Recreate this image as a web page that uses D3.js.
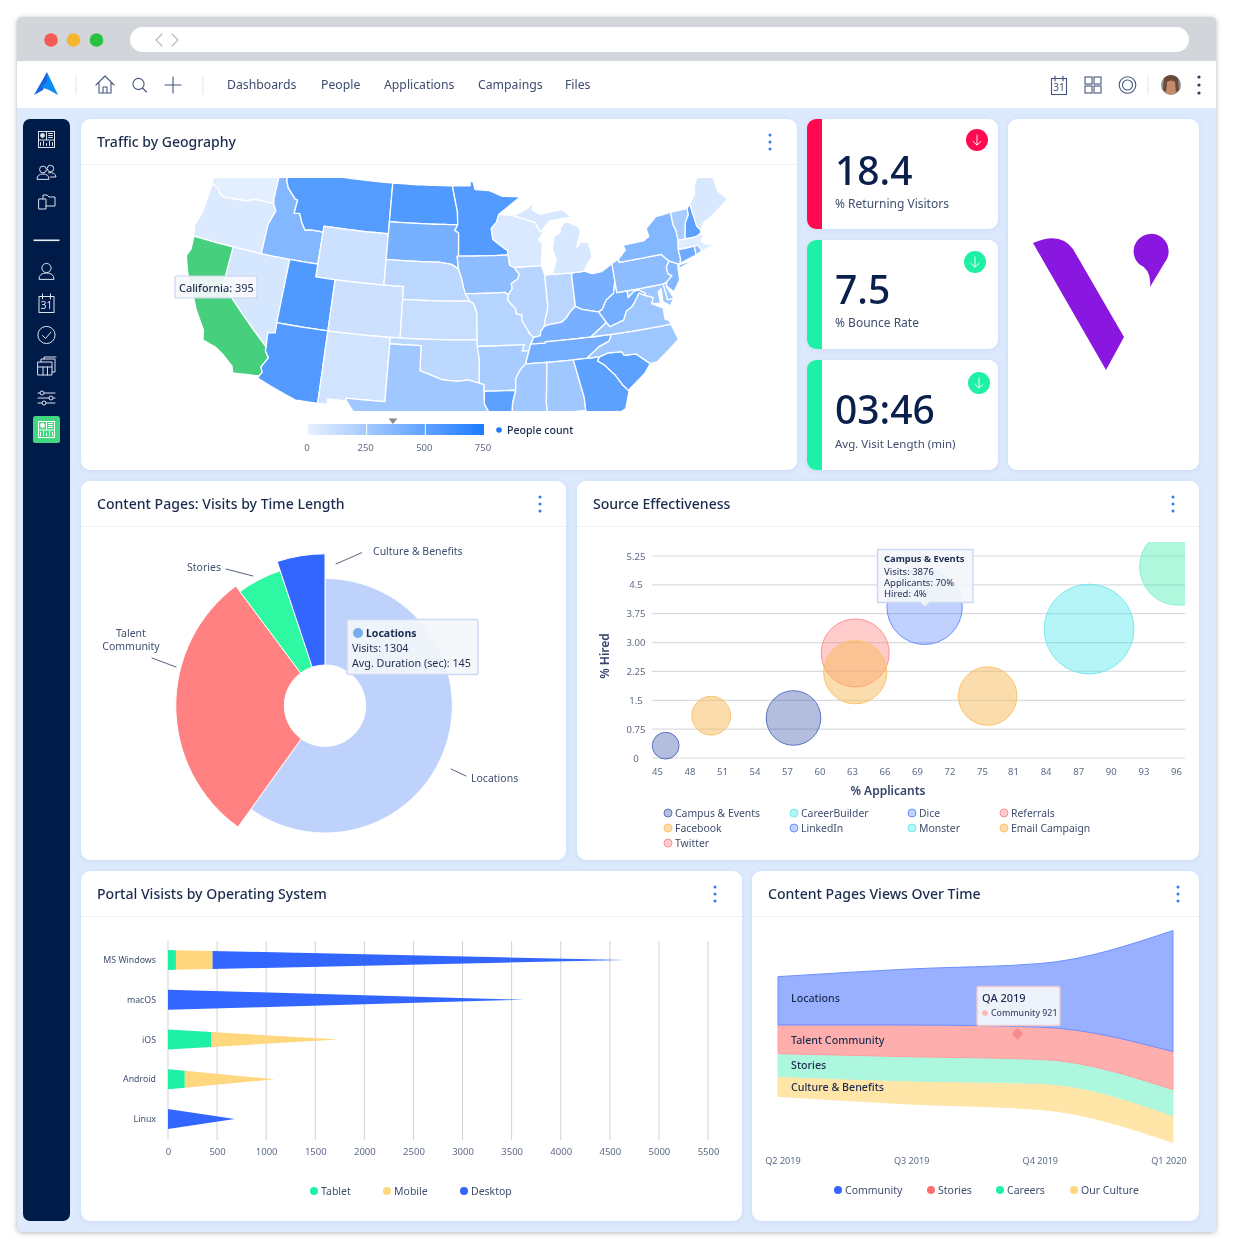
<!DOCTYPE html>
<html><head><meta charset="utf-8">
<script src="https://cdn.jsdelivr.net/npm/d3@7/dist/d3.min.js"></script>
<style>
html,body{margin:0;padding:0;background:#fff;overflow:hidden}
svg{display:block;filter:blur(.35px)}
text{font-family:"Noto Sans","Open Sans",sans-serif;fill:#2b3b5c}
</style></head><body>
<svg id="page" width="1233" height="1250" viewBox="0 0 1233 1250"></svg>
<script>
// ---------- navigation ----------
const navItems=["Dashboards","People","Applications","Campaings","Files"];
// ---------- map (lon/lat outlines and people counts) ----------
const WA=[[-124.7,48.4],[-123.1,48.2],[-122.8,49],[-117,49],[-117,46.4],[-116.9,46],[-119,46],[-120,45.7],[-121.2,45.65],[-122.3,45.55],[-122.8,45.7],[-123.4,46.2],[-124,46.25],[-124.1,47],[-124.7,48.4]];
const OR=[[-124,46.25],[-123.4,46.2],[-122.8,45.7],[-122.3,45.55],[-121.2,45.65],[-120,45.7],[-119,46],[-116.9,46],[-116.5,45.5],[-117,44.3],[-117,42],[-124.2,42],[-124.5,42.8],[-124.1,44],[-124,46.25]];
const CA=[[-124.2,42],[-120,42],[-120,39],[-114.6,35],[-114.6,34.7],[-114.2,34.2],[-114.7,33.4],[-114.5,33],[-114.7,32.7],[-117.1,32.5],[-117.3,33],[-118.4,33.75],[-119.2,34.15],[-120.5,34.45],[-120.7,35.2],[-121.9,36.6],[-122.5,37.5],[-123,38],[-123.8,39.3],[-124.35,40.4],[-124.1,41],[-124.2,42]];
const NV=[[-120,42],[-114,42],[-114,36.2],[-114.7,36.1],[-114.6,35],[-120,39],[-120,42]];
const ID=[[-117,49],[-116.05,49],[-116.05,48],[-115.7,47.45],[-114.7,46.7],[-114.4,46.65],[-114.5,45.6],[-113.9,45.65],[-113.45,44.95],[-113,44.45],[-112.3,44.55],[-111.5,44.55],[-111.05,44.5],[-111.05,42],[-117,42],[-117,44.3],[-116.5,45.5],[-116.9,46],[-117,46.4],[-117,49]];
const MT=[[-116.05,49],[-104.05,49],[-104.05,45],[-111.05,45],[-111.05,44.5],[-111.5,44.55],[-112.3,44.55],[-113,44.45],[-113.45,44.95],[-113.9,45.65],[-114.5,45.6],[-114.4,46.65],[-114.7,46.7],[-115.7,47.45],[-116.05,48],[-116.05,49]];
const WY=[[-111.05,45],[-104.05,45],[-104.05,41],[-111.05,41],[-111.05,45]];
const UT=[[-114,42],[-111.05,42],[-111.05,41],[-109.05,41],[-109.05,37],[-114.05,37],[-114,42]];
const AZ=[[-114.05,37],[-109.05,37],[-109.05,31.33],[-111.07,31.33],[-114.8,32.5],[-114.7,32.7],[-114.5,33],[-114.7,33.4],[-114.2,34.2],[-114.6,34.7],[-114.6,35],[-114.7,36.1],[-114,36.2],[-114.05,37]];
const CO=[[-109.05,41],[-102.05,41],[-102.05,37],[-109.05,37],[-109.05,41]];
const NM=[[-109.05,37],[-103,37],[-103.05,32],[-106.6,32],[-106.5,31.78],[-108.2,31.78],[-108.2,31.33],[-109.05,31.33],[-109.05,37]];
const ND=[[-104.05,49],[-97.2,49],[-96.9,48],[-96.6,47],[-96.56,45.95],[-104.05,45.95],[-104.05,49]];
const SD=[[-104.05,45.95],[-96.56,45.95],[-96.85,45.5],[-96.45,45.3],[-96.45,43.5],[-96.6,43.5],[-96.45,42.5],[-97.2,42.85],[-98.5,43],[-104.05,43],[-104.05,45.95]];
const NE=[[-104.05,43],[-98.5,43],[-97.2,42.85],[-96.45,42.5],[-96.1,41.7],[-95.9,41],[-95.3,40],[-102.05,40],[-102.05,41],[-104.05,41],[-104.05,43]];
const KS=[[-102.05,40],[-95.3,40],[-94.9,39.8],[-94.6,39.1],[-94.62,37],[-102.05,37],[-102.05,40]];
const OK=[[-103,37],[-94.62,37],[-94.43,35.4],[-94.48,33.64],[-95.5,33.9],[-96.5,33.8],[-97.2,33.85],[-97.9,33.9],[-98.5,34.1],[-99.5,34.4],[-100,34.56],[-100,36.5],[-103,36.5],[-103,37]];
const TX=[[-103,36.5],[-100,36.5],[-100,34.56],[-99.5,34.4],[-98.5,34.1],[-97.9,33.9],[-97.2,33.85],[-96.5,33.8],[-95.5,33.9],[-94.48,33.64],[-94.04,33.55],[-94.04,33],[-94.04,32],[-93.55,31.2],[-93.8,30],[-93.85,29.7],[-95,29.2],[-97,28],[-97.4,26],[-99,26.4],[-99.5,27.5],[-101,29.5],[-102.5,29.75],[-103.2,29],[-104.5,29.6],[-106.5,31.78],[-106.6,32],[-103.05,32],[-103,36.5]];
const MN=[[-97.2,49],[-95.15,49],[-95.15,49.4],[-94.8,49.3],[-94.6,48.7],[-93,48.6],[-91.5,48.1],[-89.5,48],[-92,46.7],[-92.3,46.1],[-92.9,45.6],[-92.75,44.75],[-91.25,43.85],[-91.22,43.5],[-96.45,43.5],[-96.45,45.3],[-96.85,45.5],[-96.56,45.95],[-96.6,47],[-96.9,48],[-97.2,49]];
const IA=[[-96.6,43.5],[-91.22,43.5],[-91.1,42.7],[-90.64,42.5],[-90.15,41.95],[-90.35,41.6],[-91.05,41.25],[-90.95,40.9],[-91.4,40.4],[-91.7,40.6],[-95.75,40.58],[-95.9,41],[-96.1,41.7],[-96.45,42.5],[-96.6,43.5]];
const MO=[[-95.75,40.58],[-91.7,40.6],[-91.4,40.4],[-91.5,40],[-90.75,39.3],[-90.7,38.9],[-90.15,38.8],[-90.2,38.4],[-89.5,37.3],[-89.15,37],[-89.5,36.5],[-89.7,36],[-90.35,36],[-90.1,36.5],[-94.62,36.5],[-94.62,37],[-94.6,39.1],[-94.9,39.8],[-95.3,40],[-95.75,40.58]];
const AR=[[-94.62,36.5],[-90.1,36.5],[-90.35,36],[-89.7,36],[-90.1,35],[-90.6,34.6],[-91.1,33.9],[-91.15,33],[-94.04,33],[-94.04,33.55],[-94.48,33.64],[-94.43,35.4],[-94.62,36.5]];
const LA=[[-94.04,33],[-91.15,33],[-91.5,32],[-91.6,31],[-89.75,31],[-89.6,30.2],[-89,29.2],[-91,29.2],[-93.85,29.7],[-93.8,30],[-93.55,31.2],[-94.04,32],[-94.04,33]];
const WI=[[-92,46.7],[-90.4,46.55],[-88.1,45.9],[-87.6,45.1],[-87,45.3],[-87.9,44.5],[-87.5,44.2],[-87.8,42.5],[-90.64,42.5],[-91.1,42.7],[-91.22,43.5],[-91.25,43.85],[-92.75,44.75],[-92.9,45.6],[-92.3,46.1],[-92,46.7]];
const IL=[[-90.64,42.5],[-87.8,42.5],[-87.55,41.75],[-87.53,39.35],[-87.6,39],[-87.95,38.2],[-88.05,37.8],[-88.45,37.4],[-88.5,37.1],[-89.15,37],[-89.5,37.3],[-90.2,38.4],[-90.15,38.8],[-90.7,38.9],[-90.75,39.3],[-91.5,40],[-91.4,40.4],[-90.95,40.9],[-91.05,41.25],[-90.35,41.6],[-90.15,41.95],[-90.64,42.5]];
const IN=[[-87.55,41.75],[-87.2,41.75],[-86.8,41.76],[-84.8,41.7],[-84.8,39.1],[-85.4,38.7],[-85.8,38.3],[-86.3,38],[-86.8,37.95],[-87.6,37.9],[-88.05,37.8],[-87.95,38.2],[-87.6,39],[-87.53,39.35],[-87.55,41.75]];
const OH=[[-84.8,41.7],[-83.45,41.72],[-82.7,41.45],[-81.7,41.5],[-80.52,42],[-80.52,40.64],[-80.85,39.7],[-81.7,39.25],[-82.2,38.6],[-82.6,38.45],[-83.3,38.6],[-84.2,38.8],[-84.8,39.1],[-84.8,41.7]];
const MIL=[[-86.8,41.76],[-84.8,41.7],[-83.45,41.72],[-83.1,42.2],[-82.5,42.7],[-82.45,43],[-82.6,43.9],[-83.4,44],[-83.9,43.65],[-83.3,44.8],[-83.4,45.2],[-84.75,45.75],[-85.4,45.3],[-85.5,44.9],[-86.2,44.7],[-86.5,43.7],[-86.2,42.8],[-86.8,41.76]];
const MIU=[[-90.4,46.55],[-88.9,47],[-88,47.45],[-88.3,46.9],[-87.5,46.5],[-85,46.7],[-84,46],[-85,46],[-86.5,45.9],[-87.6,45.1],[-88.1,45.9],[-90.4,46.55]];
const KY=[[-89.5,36.5],[-89.15,37],[-88.5,37.1],[-88.45,37.4],[-88.05,37.8],[-87.6,37.9],[-86.8,37.95],[-86.3,38],[-85.8,38.3],[-85.4,38.7],[-84.8,39.1],[-84.2,38.8],[-83.3,38.6],[-82.6,38.45],[-82,37.55],[-83.7,36.6],[-88.07,36.6],[-88.07,36.5],[-89.5,36.5]];
const TN=[[-90.1,35],[-89.7,36],[-89.5,36.5],[-88.07,36.5],[-88.07,36.6],[-83.7,36.6],[-81.68,36.59],[-82,36.1],[-83.1,35.75],[-84.3,35],[-88.2,35],[-90.1,35]];
const MS=[[-91.15,33],[-91.1,33.9],[-90.6,34.6],[-90.1,35],[-88.2,35],[-88.1,34.9],[-88.45,31.9],[-88.4,30.3],[-89.6,30.2],[-89.75,31],[-91.6,31],[-91.5,32],[-91.15,33]];
const AL=[[-88.2,35],[-85.6,35],[-85.1,32.5],[-85,32],[-85,31],[-87.6,31],[-87.5,30.3],[-88.4,30.3],[-88.45,31.9],[-88.1,34.9],[-88.2,35]];
const GA=[[-85.6,35],[-83.1,35],[-83.35,34.7],[-82.75,34.3],[-81.9,33.4],[-81.4,32.6],[-80.9,32.05],[-81.45,30.7],[-82.05,30.5],[-82.2,30.6],[-84.85,30.7],[-85,31],[-85,32],[-85.1,32.5],[-85.6,35]];
const SC=[[-83.1,35],[-82.3,35.2],[-81,35.15],[-80.8,34.82],[-79.7,34.8],[-78.55,33.86],[-79.2,33.2],[-80.8,32.2],[-80.9,32.05],[-81.4,32.6],[-81.9,33.4],[-82.75,34.3],[-83.35,34.7],[-83.1,35]];
const NC=[[-84.3,35],[-83.1,35.75],[-82,36.1],[-81.68,36.59],[-75.9,36.55],[-75.5,35.3],[-76.5,34.7],[-77.9,33.9],[-78.55,33.86],[-79.7,34.8],[-80.8,34.82],[-81,35.15],[-82.3,35.2],[-83.1,35],[-84.3,35]];
const VA=[[-83.7,36.6],[-82,37.55],[-81.7,37.2],[-81.3,37.3],[-80.3,37.55],[-79.9,38.2],[-79.3,38.45],[-78.9,38.8],[-78.35,39.4],[-77.8,39.13],[-77.05,38.85],[-77.3,38.4],[-76.3,37.9],[-76.35,37],[-76,36.9],[-75.9,36.55],[-81.68,36.59],[-83.7,36.6]];
const WV=[[-82.6,38.45],[-82.2,38.6],[-81.7,39.25],[-80.85,39.7],[-80.52,40.64],[-80.52,39.72],[-79.48,39.72],[-79.48,39.2],[-78.8,39.6],[-78.35,39.65],[-77.73,39.32],[-77.8,39.13],[-78.35,39.4],[-78.9,38.8],[-79.3,38.45],[-79.9,38.2],[-80.3,37.55],[-81.3,37.3],[-81.7,37.2],[-82,37.55],[-82.6,38.45]];
const MD=[[-79.48,39.72],[-75.79,39.72],[-75.7,38.46],[-75.05,38.45],[-75.6,37.95],[-76.2,38.4],[-76.1,39.4],[-76.45,39.2],[-76.45,38.3],[-77.3,38.4],[-77.05,38.85],[-77.8,39.13],[-77.73,39.32],[-78.35,39.65],[-78.8,39.6],[-79.48,39.2],[-79.48,39.72]];
const DE=[[-75.79,39.72],[-75.4,39.8],[-75.55,39.5],[-75.05,38.45],[-75.7,38.46],[-75.79,39.72]];
const PA=[[-80.52,42],[-79.76,42.27],[-79.76,42],[-75.35,42],[-74.7,41.36],[-75.1,40.95],[-75.1,40.4],[-74.75,40.2],[-75.4,39.8],[-75.79,39.72],[-80.52,39.72],[-80.52,42]];
const NJ=[[-74.7,41.36],[-73.9,41],[-74,40.5],[-74.1,39.75],[-74.9,38.95],[-75.5,39.5],[-75.4,39.8],[-74.75,40.2],[-75.1,40.4],[-75.1,40.95],[-74.7,41.36]];
const NY=[[-79.76,42.27],[-78.9,42.85],[-79.05,43.27],[-76.8,43.3],[-76.2,43.55],[-76.3,44.2],[-75,44.95],[-73.35,45.01],[-73.4,44],[-73.25,43.6],[-73.28,42.75],[-73.5,42.05],[-73.5,41.3],[-73.65,41],[-73.9,41],[-74.7,41.36],[-75.35,42],[-79.76,42],[-79.76,42.27]];
const LI=[[-74,40.6],[-72,41.05],[-73.7,40.9],[-74,40.6]];
const VT=[[-73.35,45.01],[-71.5,45.01],[-71.55,44.5],[-72.05,44],[-72.45,43],[-72.46,42.73],[-73.28,42.75],[-73.25,43.6],[-73.4,44],[-73.35,45.01]];
const NH=[[-71.5,45.01],[-71.1,45.3],[-71,43.5],[-70.7,43.08],[-70.8,42.87],[-71.3,42.7],[-72.46,42.73],[-72.45,43],[-72.05,44],[-71.55,44.5],[-71.5,45.01]];
const ME=[[-71.1,45.3],[-70.3,45.9],[-70,46.7],[-69.2,47.45],[-68.3,47.35],[-67.8,47.07],[-67.8,45.7],[-67,44.85],[-69,44],[-70.2,43.6],[-70.7,43.08],[-71,43.5],[-71.1,45.3]];
const MA=[[-73.5,42.05],[-73.28,42.75],[-72.46,42.73],[-71.3,42.7],[-70.8,42.87],[-70.6,42.65],[-71,42.3],[-70.6,41.95],[-70,41.8],[-70.05,42.05],[-69.95,41.7],[-71.2,41.5],[-71.38,42.02],[-73.5,42.05]];
const CT=[[-73.5,42.05],[-71.8,42.02],[-71.85,41.32],[-73.65,41],[-73.5,41.3],[-73.5,42.05]];
const RI=[[-71.8,42.02],[-71.38,42.02],[-71.2,41.5],[-71.85,41.32],[-71.8,42.02]];
const stateShapes=[WA,OR,NV,ID,MT,WY,UT,AZ,CO,NM,ND,SD,NE,KS,OK,TX,MN,IA,MO,AR,LA,WI,IL,IN,OH,MIL,MIU,KY,TN,MS,AL,GA,SC,NC,VA,WV,MD,DE,PA,NJ,NY,LI,VT,NH,ME,MA,CT,RI,CA];
const stateValues=[20,45,70,370,540,103,560,550,100,88,560,415,158,118,160,265,545,330,187,235,510,50,176,170,410,60,60,410,425,265,265,510,510,270,270,425,270,270,330,370,370,370,235,510,60,30,450,330,395];
const legendTicks=[0,250,500,750];
const hoverValue=362;
// ---------- KPIs ----------
const kpiValues=["18.4","7.5","03:46"];
const kpiLabels=["% Returning Visitors","% Bounce Rate","Avg. Visit Length (min)"];
// ---------- pie ----------
const pieNames=["Locations","Talent Community","Stories","Culture & Benefits"];
const pieVisits=[1304,651,111,111];
const pieDurations=[145,170,162,173];
// ---------- bubbles ----------
const bubbleX=[45.8,50,57.6,63.3,63.3,69.7,76.1,88,96.2];
const bubbleY=[0.32,1.1,1.04,2.73,2.23,3.93,1.61,3.35,4.97];
const bubbleVisits=[490,1026,2032,3152,2723,3876,2325,5498,4042];
const bubbleTones=["navy","orange","navy","red","orange","blue","orange","cyan","green"];
const bubbleXTicks=[45,48,51,54,57,60,63,66,69,72,75,81,84,87,90,93,96];
const bubbleYTicks=[0,0.75,1.5,2.25,3,3.75,4.5,5.25];
const bubbleYLabels=["0","0.75","1.5","2.25","3.00","3.75","4.5","5.25"];
const bubbleLegend=["Campus & Events","CareerBuilder","Dice","Referrals","Facebook","LinkedIn","Monster","Email Campaign","Twitter"];
const bubbleLegendTones=["navy","cyan","blue","red","orange","blue","cyan","orange","red"];
// ---------- tapered bars ----------
const osNames=["MS Windows","macOS","iOS","Android","Linux"];
const tabletViews=[81,0,441,171,0];
const mobileViews=[373,0,1300,917,0];
const desktopViews=[4200,3620,0,0,680];
const barTicks=[0,500,1000,1500,2000,2500,3000,3500,4000,4500,5000,5500];
// ---------- stream ----------
const quarters=["Q2 2019","Q3 2019","Q4 2019","Q1 2020"];
const communityViews=[698,810,921,1750];
const storiesViews=[415,458,467,550];
const careersViews=[328,351,347,376];
const cultureViews=[289,333,376,386];
const streamBandNames=["Locations","Talent Community","Stories","Culture & Benefits"];
const streamLegend=["Community","Stories","Careers","Our Culture"];

// ---------- palette ----------
const INK="#1b2b4d",SOFT="#3f4e6e",MUTED="#5d6a85",BLUE="#3366ff",RED="#ff8181",GREEN="#1ef0a5",AMBER="#ffd77f";
const toneFill={navy:"rgba(66,90,172,.40)",orange:"rgba(248,188,92,.50)",blue:"rgba(51,102,255,.30)",red:"rgba(255,125,125,.40)",cyan:"rgba(60,228,234,.38)",green:"rgba(50,235,165,.38)"};
const toneLine={navy:"#5a74c4",orange:"#f9c46c",blue:"#6e90ff",red:"#ff9191",cyan:"#78eaef",green:"#84f2cc"};

const svg=d3.select("#page");
const defs=svg.append("defs");
const sh=defs.append("filter").attr("id","cardShadow").attr("x","-10%").attr("y","-10%").attr("width","120%").attr("height","120%");
sh.append("feDropShadow").attr("dx",0).attr("dy",1).attr("stdDeviation",2.5).attr("flood-color","#9fbcf0").attr("flood-opacity",.35);
const fs=defs.append("filter").attr("id","frameShadow").attr("x","-5%").attr("y","-5%").attr("width","110%").attr("height","110%");
fs.append("feDropShadow").attr("dx",0).attr("dy",1).attr("stdDeviation",2.5).attr("flood-color","#555").attr("flood-opacity",.45);

function label(g,str,x,y,o={}){
  return g.append("text").attr("x",x).attr("y",y-0.8).text(str)
    .attr("font-size",o.size||11).attr("font-weight",o.weight||400)
    .attr("text-anchor",o.anchor||"start").attr("dominant-baseline","central")
    .style("fill",o.color||SOFT);
}
function shape(g,d,o={}){
  return g.append("path").attr("d",d).attr("fill",o.fill||"none")
    .attr("stroke",o.stroke||"none").attr("stroke-width",o.w||1).attr("stroke-linecap","round").attr("stroke-linejoin","round");
}

// ---------- window frame ----------
svg.append("rect").attr("x",17).attr("y",17).attr("width",1199).attr("height",1215).attr("rx",5).attr("fill","#dde9fc").attr("filter","url(#frameShadow)");
shape(svg,"M17 61V22a5 5 0 0 1 5-5H1211a5 5 0 0 1 5 5V61Z",{fill:"#d2d5da"});
svg.append("rect").attr("x",17).attr("y",61).attr("width",1199).attr("height",47).attr("fill","#fff");
[["#f65a52",51],["#f5b52e",73.5],["#27c23f",96.5]].forEach(([c,x])=>svg.append("circle").attr("cx",x).attr("cy",40).attr("r",6.8).attr("fill",c));
svg.append("rect").attr("x",130).attr("y",27).attr("width",1059).attr("height",25).attr("rx",12.5).attr("fill","#fff");
shape(svg,"M162 34l-6 6 6 6M172 34l6 6-6 6",{stroke:"#b4b8bf",w:1.2});
// nav logo
shape(svg,"M47 72L34 95 43 90 47 82Z",{fill:"#1565e0"});
shape(svg,"M47 72L58 95 49 90 41 87 47 82Z",{fill:"#0a8cf0"});
shape(svg,"M76 76V94M203 76V94M1148 76V94",{stroke:"#e2e5ea",w:1});
const NAV="#44557a";
shape(svg,"M96 85L105 76 114 85M99 83V93H111V83M103 93V87H107V93",{stroke:NAV,w:1.1});
svg.append("circle").attr("cx",138.5).attr("cy",84).attr("r",5.6).attr("fill","none").attr("stroke",NAV).attr("stroke-width",1.1);
shape(svg,"M142.5 88L146.5 92",{stroke:NAV,w:1.1});
shape(svg,"M173 77V93M165 85H181",{stroke:NAV,w:1.1});
const navX=[227,321,384,478,565];
navItems.forEach((t,i)=>label(svg,t,navX[i],85,{size:12.25,color:"#3c4c6e"}));
// right icons
function calendar(g,x,y,col,w){
  g.append("rect").attr("x",x-7.5).attr("y",y-7.5).attr("width",15).attr("height",16).attr("fill","none").attr("stroke",col).attr("stroke-width",w);
  shape(g,`M${x-4} ${y-10}V${y-5}M${x+4} ${y-10}V${y-5}`,{stroke:col,w});
  label(g,"31",x,y+2,{size:10,color:col,anchor:"middle"});
}
calendar(svg,1059,86,NAV,1.1);
[[1085,77],[1094,77],[1085,86],[1094,86]].forEach(([x,y])=>svg.append("rect").attr("x",x).attr("y",y).attr("width",7).attr("height",7).attr("fill","none").attr("stroke",NAV).attr("stroke-width",1.1));
[8.3,5].forEach(r=>svg.append("circle").attr("cx",1127.5).attr("cy",85).attr("r",r).attr("fill","none").attr("stroke",NAV).attr("stroke-width",1.1));
svg.append("circle").attr("cx",1171).attr("cy",85).attr("r",10).attr("fill","#8d8f94");
shape(svg,"M1164 78Q1171 72 1178 78L1179 90Q1171 97 1163 90Z",{fill:"#6b4a3a"});
shape(svg,"M1167 82Q1171 79 1175 82L1176 93Q1171 96 1166 93Z",{fill:"#c58a68"});
[77,85,93].forEach(y=>svg.append("circle").attr("cx",1199).attr("cy",y).attr("r",1.6).attr("fill","#2b3b5c"));

// ---------- sidebar ----------
svg.append("rect").attr("x",23).attr("y",119).attr("width",47).attr("height",1102).attr("rx",7).attr("fill","#001b48");
const SIDE="#dbe2ee";
function dashIcon(g,x,y,col,bg){
  g.append("rect").attr("x",x-8.5).attr("y",y-8.5).attr("width",17).attr("height",17).attr("fill",col);
  g.append("rect").attr("x",x-7.5).attr("y",y-7.5).attr("width",7).attr("height",7.5).attr("fill",bg);
  g.append("rect").attr("x",x+.5).attr("y",y-7.5).attr("width",7).attr("height",7.5).attr("fill",bg);
  g.append("rect").attr("x",x-7.5).attr("y",y+1).attr("width",15).attr("height",6.5).attr("fill",bg);
  g.append("circle").attr("cx",x-4).attr("cy",y-4).attr("r",2.4).attr("fill",col);
  shape(g,`M${x+2} ${y-6}H${x+6}M${x+2} ${y-4}H${x+6}M${x+2} ${y-2}H${x+6}M${x-6} ${y+6}V${y+3}M${x-3} ${y+6}V${y+2}M${x} ${y+6}V${y+4}M${x+3} ${y+6}V${y+2}M${x+6} ${y+6}V${y+3}`,{stroke:col,w:1});
}
dashIcon(svg,46.5,139.5,SIDE,"#001b48");
svg.append("circle").attr("cx",43).attr("cy",169.5).attr("r",3.4).attr("fill","none").attr("stroke",SIDE);
svg.append("circle").attr("cx",50.5).attr("cy",168.5).attr("r",3.2).attr("fill","none").attr("stroke",SIDE);
shape(svg,"M37 179Q37 174 43 174Q49 174 49 179ZM48.5 172.7Q55.5 172 56 177H50.5",{stroke:SIDE,w:1});
shape(svg,"M39 199H46V209H39ZM43 199V195H47L49 197H55V206H46",{stroke:SIDE,w:1});
svg.append("rect").attr("x",33.5).attr("y",239.5).attr("width",26).attr("height",1.6).attr("fill","#e9edf3");
svg.append("circle").attr("cx",46.5).attr("cy",268).attr("r",4.6).attr("fill","none").attr("stroke",SIDE);
shape(svg,"M39 279Q39 273 46.5 273Q54 273 54 279Z",{stroke:SIDE,w:1});
calendar(svg,46.5,304,SIDE,1);
svg.append("circle").attr("cx",46.5).attr("cy",335).attr("r",8.6).attr("fill","none").attr("stroke",SIDE);
shape(svg,"M42.5 335.5L45.5 338.5 51 332",{stroke:SIDE,w:1});
shape(svg,"M38 362H52V375H38ZM38 367H52M43 367V375M47.5 367V375M41 362V359H55V372H52M44 359V357H56",{stroke:SIDE,w:1});
shape(svg,"M38 393H55M38 398H55M38 403H55",{stroke:SIDE,w:1});
[[42,393],[51,398],[44,403]].forEach(([x,y])=>svg.append("circle").attr("cx",x).attr("cy",y).attr("r",2).attr("fill","#001b48").attr("stroke",SIDE));
svg.append("rect").attr("x",33).attr("y",416).attr("width",27).attr("height",27).attr("rx",2.5).attr("fill","#41d67f");
dashIcon(svg,46.5,429.5,"#fff","#41d67f");

// ---------- cards ----------
function card(x,y,w,h,title,dotsX){
  svg.append("rect").attr("x",x).attr("y",y).attr("width",w).attr("height",h).attr("rx",9).attr("fill","#fff").attr("filter","url(#cardShadow)");
  if(title){
    label(svg,title,x+16,y+23,{size:14.05,weight:500,color:INK});
    svg.append("line").attr("x1",x).attr("x2",x+w).attr("y1",y+45.5).attr("y2",y+45.5).attr("stroke","#eff1f5");
    [-7,0,7].forEach(d=>svg.append("circle").attr("cx",dotsX).attr("cy",y+23+d).attr("r",1.5).attr("fill","#2f7cf0"));
  }
}
card(81,119,716,351,"Traffic by Geography",770);
card(81,481,485,379,"Content Pages: Visits by Time Length",540);
card(577,481,622,379,"Source Effectiveness",1173);
card(81,871,661,350,"Portal Visists by Operating System",715);
card(752,871,447,350,"Content Pages Views Over Time",1178);

// ---------- map ----------
const albers=d3.geoAlbers().rotate([96,0]).center([0,38]).parallels([29.5,45.5]).scale(1000).translate([0,0]);
const mapX=d3.scaleLinear().domain([albers([-124.2,42])[0],albers([-75.35,42])[0]]).range([194,661]);
const mapY=d3.scaleLinear().domain([albers([-104.05,49])[1],albers([-102.05,37])[1]]).range([183,338]);
function densify(ring){
  const out=[];
  ring.forEach((p,i)=>{
    if(i===0){out.push(p);return;}
    const q=ring[i-1],n=Math.ceil(Math.abs(p[0]-q[0])/0.5)||1;
    for(let k=1;k<=n;k++)out.push([q[0]+(p[0]-q[0])*k/n,q[1]+(p[1]-q[1])*k/n]);
  });
  return out;
}
const mapLine=d3.line().x(d=>mapX(albers(d)[0])).y(d=>mapY(albers(d)[1]));
const mapColor=d3.scaleLinear().domain([0,750]).range(["#e8f1ff","#1c7bff"]);
defs.append("clipPath").attr("id","mapClip").append("rect").attr("x",170).attr("y",178).attr("width",600).attr("height",233);
const mapG=svg.append("g").attr("clip-path","url(#mapClip)");
mapG.selectAll("path").data(stateShapes).join("path")
  .attr("d",d=>mapLine(densify(d)))
  .attr("fill",(d,i)=>d===CA?"#46cf7d":mapColor(stateValues[i]))
  .attr("stroke","#fff").attr("stroke-width",1.3).attr("stroke-linejoin","round");
svg.append("rect").attr("x",175).attr("y",276).attr("width",82).attr("height",22).attr("rx",2).attr("fill","rgba(247,249,252,.92)").attr("stroke","#c7d6ef").attr("stroke-width",1.2);
const ct=label(svg,"",179,287.5,{size:10.9,color:INK});
ct.append("tspan").attr("font-weight",500).text("California:");
ct.append("tspan").attr("font-weight",400).text(" 395");
// legend
const legendX=d3.scaleLinear().domain([0,750]).range([308,484]);
const grad=defs.append("linearGradient").attr("id","legendGrad");
grad.append("stop").attr("offset",0).attr("stop-color",mapColor(0));
grad.append("stop").attr("offset",1).attr("stop-color",mapColor(750));
svg.append("rect").attr("x",legendX(0)).attr("y",424).attr("width",legendX(750)-legendX(0)).attr("height",11).attr("fill","url(#legendGrad)");
[250,500].forEach(v=>svg.append("line").attr("x1",legendX(v)).attr("x2",legendX(v)).attr("y1",424).attr("y2",435).attr("stroke","#fff"));
legendTicks.forEach(v=>label(svg,String(v),legendX(v)-1,448.5,{size:9.5,anchor:"middle",color:MUTED}));
const tx=legendX(hoverValue);
shape(svg,`M${tx-4.5} 418.5H${tx+4.5}L${tx} 424Z`,{fill:"#8b8b8b"});
svg.append("circle").attr("cx",499).attr("cy",430).attr("r",2.8).attr("fill","#1c7bff");
label(svg,"People count",507,430.5,{size:10.6,weight:500,color:INK});

// ---------- KPI cards ----------
const kpiY=[119,240,360],kpiH=[110,109,110];
const kpiColor=["#ff0a50",GREEN,GREEN];
const kpiBadgeX=[977,975,979],kpiBadgeY=[140,262,383];
const kpiBase=[170,289,409],kpiSub=[204.5,323.5,444.5],kpiSubSize=[12,12,11.5];
kpiValues.forEach((v,i)=>{
  const y=kpiY[i],h=kpiH[i];
  svg.append("rect").attr("x",807).attr("y",y).attr("width",191).attr("height",h).attr("rx",9).attr("fill","#fff").attr("filter","url(#cardShadow)");
  shape(svg,`M822 ${y}H816a9 9 0 0 0-9 9V${y+h-9}a9 9 0 0 0 9 9H822Z`,{fill:kpiColor[i]});
  label(svg,v,835,kpiBase[i],{size:39,weight:500,color:"#0a1f4c"});
  label(svg,kpiLabels[i],835,kpiSub[i],{size:kpiSubSize[i],color:SOFT});
  const bx=kpiBadgeX[i],by=kpiBadgeY[i];
  svg.append("circle").attr("cx",bx).attr("cy",by).attr("r",11).attr("fill",kpiColor[i]);
  shape(svg,`M${bx} ${by-5}V${by+5}M${bx-4} ${by+1.5}L${bx} ${by+5}L${bx+4} ${by+1.5}`,{stroke:"#fff",w:.9});
});
card(1008,119,191,351);
shape(svg,"M1033 243Q1060 231 1073 249L1124 337L1106 370Z",{fill:"#8a17df"});
shape(svg,"M1150 287L1165 262A17.5 17.5 0 1 0 1139 264Q1152 270 1150 287Z",{fill:"#8a17df"});

// ---------- pie ----------
const pieG=svg.append("g").attr("transform","translate(325,705.7)");
const radius=d3.scaleLinear().domain([0,145]).range([0,127.3]);
const pie=d3.pie().sort(null)(pieVisits);
const arc=d3.arc().innerRadius(40.7);
const pieColors=["#bed2fc","#ff8181","#2ff8a2",BLUE];
pieG.selectAll("path").data(pie).join("path")
  .attr("d",(d,i)=>arc.outerRadius(radius(pieDurations[i]))(d))
  .attr("fill",(d,i)=>pieColors[i]).attr("stroke","#fff").attr("stroke-width",1);
shape(svg,"M336 564L361.7 552.7M226 569L253 576M152 658L176 667M451 769L466 776",{stroke:"#55637f",w:1});
label(svg,pieNames[3],373,551.5,{size:10.5});
label(svg,pieNames[2],204,568,{size:10.5,anchor:"middle"});
label(svg,"Talent",131,633.5,{size:10.5,anchor:"middle"});
label(svg,"Community",131,646.5,{size:10.5,anchor:"middle"});
label(svg,pieNames[0],471,778.5,{size:10.5});
svg.append("rect").attr("x",347).attr("y",619.5).attr("width",131).attr("height",55).attr("rx",2).attr("fill","rgba(244,246,250,.9)").attr("stroke","#c9d9f3").attr("stroke-width",1.4);
svg.append("circle").attr("cx",358).attr("cy",633).attr("r",5).attr("fill","#77aaee");
label(svg,pieNames[0],366,633.5,{size:10.5,weight:700,color:INK});
label(svg,"Visits: "+pieVisits[0],352,648.5,{size:10.75,color:INK});
label(svg,"Avg. Duration (sec): "+pieDurations[0],352,663.5,{size:10.75,color:INK});

// ---------- bubbles ----------
const bx=d3.scaleLinear().domain([45,75,81,96]).range([657,982,1013,1176]);
const by=d3.scaleLinear().domain([0,5.25]).range([758,556]);
const br=d3.scaleSqrt().domain([0,5498]).range([0,44.9]);
const gridG=svg.append("g");
gridG.selectAll("line").data(bubbleYTicks).join("line").attr("x1",652).attr("x2",1185).attr("y1",d=>by(d)).attr("y2",d=>by(d)).attr("stroke","#d9dbdf").attr("stroke-width",1.2);
defs.append("clipPath").attr("id","bubbleClip").append("rect").attr("x",640).attr("y",542).attr("width",545).attr("height",225);
svg.append("g").attr("clip-path","url(#bubbleClip)").selectAll("circle").data(bubbleX).join("circle")
  .attr("cx",d=>bx(d)).attr("cy",(d,i)=>by(bubbleY[i])).attr("r",(d,i)=>br(bubbleVisits[i]))
  .attr("fill",(d,i)=>toneFill[bubbleTones[i]]).attr("stroke",(d,i)=>toneLine[bubbleTones[i]]).attr("stroke-width",1);
const xa=svg.append("g").attr("transform","translate(0,771.5)").call(d3.axisBottom(bx).tickValues(bubbleXTicks).tickSize(0).tickPadding(0));
xa.select(".domain").remove();
xa.selectAll("text").attr("dominant-baseline","central").attr("dy",0).attr("font-size",9.5).style("font-family",'"Noto Sans"').style("fill",MUTED);
const ya=svg.append("g").attr("transform","translate(636,-0.5)").call(d3.axisLeft(by).tickValues(bubbleYTicks).tickSize(0).tickPadding(0).tickFormat((d,i)=>bubbleYLabels[i]));
ya.select(".domain").remove();
ya.selectAll("text").attr("text-anchor","middle").attr("x",0).attr("dy",0).attr("dominant-baseline","central").attr("font-size",9.5).style("font-family",'"Noto Sans"').style("fill",MUTED);
label(svg,"% Applicants",888,791.5,{size:12,weight:600,anchor:"middle",color:"#33426a"});
label(svg,"% Hired",0,0,{size:12,weight:600,anchor:"middle",color:"#33426a"}).attr("transform","translate(605,656) rotate(-90)");
const legX=[668,794,912,1004],legY=[813,828,843];
bubbleLegend.forEach((t,i)=>{
  const x=legX[i%4],y=legY[Math.floor(i/4)],k=bubbleLegendTones[i];
  svg.append("circle").attr("cx",x).attr("cy",y).attr("r",4).attr("fill",toneFill[k]).attr("stroke",toneLine[k]);
  label(svg,t,x+7,y+.5,{size:10.4,color:SOFT});
});
shape(svg,"M877.5 549.5H973V602.5H930L925 607 920 602.5H877.5Z",{fill:"rgba(244,246,250,.9)",stroke:"#c9d9f3",w:1.4});
label(svg,"Campus & Events",884,559,{size:9.4,weight:700,color:INK});
label(svg,"Visits: 3876",884,572,{size:9.5,color:INK});
label(svg,"Applicants: 70%",884,583,{size:9.5,color:INK});
label(svg,"Hired: 4%",884,594,{size:9.5,color:INK});

// ---------- tapered bars ----------
const hx=d3.scaleLinear().domain([0,5500]).range([168,708]);
const hy=d3.scalePoint().domain(osNames).range([960,1119]);
svg.append("g").selectAll("line").data(barTicks).join("line").attr("x1",d=>hx(d)).attr("x2",d=>hx(d)).attr("y1",941).attr("y2",1140).attr("stroke","#d2d3d6").attr("stroke-width",1);
const barKeys=[[tabletViews,GREEN],[mobileViews,AMBER],[desktopViews,BLUE]];
const taper=d3.line();
const barG=svg.append("g");
osNames.forEach((name,i)=>{
  const total=tabletViews[i]+mobileViews[i]+desktopViews[i];
  const half=v=>10*(1-v/total);
  let start=0;
  barKeys.forEach(([vals,col])=>{
    const v=vals[i];
    if(!v)return;
    const end=start+v,cy=hy(name);
    barG.append("path").attr("fill",col).attr("d",taper([[hx(start),cy-half(start)],[hx(end),cy-half(end)],[hx(end),cy+half(end)],[hx(start),cy+half(start)]])+"Z");
    start=end;
  });
});
const ha=svg.append("g").attr("transform","translate(0,1151.5)").call(d3.axisBottom(hx).tickValues(barTicks).tickSize(0).tickPadding(0).tickFormat(d3.format("d")));
ha.select(".domain").remove();
ha.selectAll("text").attr("dominant-baseline","central").attr("dy",0).attr("font-size",9.5).style("font-family",'"Noto Sans"').style("fill",MUTED);
const hl=svg.append("g").attr("transform","translate(156,-0.5)").call(d3.axisLeft(hy).tickSize(0).tickPadding(0));
hl.select(".domain").remove();
hl.selectAll("text").attr("dy",0).attr("dominant-baseline","central").attr("font-size",8.8).style("font-family",'"Noto Sans"').style("fill",SOFT);
[["Tablet",314,GREEN],["Mobile",387,AMBER],["Desktop",464,BLUE]].forEach(([t,x,c])=>{
  svg.append("circle").attr("cx",x).attr("cy",1191).attr("r",4).attr("fill",c);
  label(svg,t,x+7,1191.5,{size:10.5});
});

// ---------- stream ----------
const streamRows=quarters.map((q,i)=>({q,community:communityViews[i],stories:storiesViews[i],careers:careersViews[i],culture:cultureViews[i]}));
const stack=d3.stack().keys(["culture","careers","stories","community"]).offset(d3.stackOffsetSilhouette);
const layers=stack(streamRows);
const sx=d3.scalePoint().domain(quarters).range([778,1173]);
const sy=d3.scaleLinear().domain([-1000,1000]).range([1105.7,967.3]);
const area=d3.area().x(d=>sx(d.data.q)).y0(d=>sy(d[0])).y1(d=>sy(d[1])).curve(d3.curveMonotoneX);
const streamFill={culture:"#ffe5a8",careers:"#adf7de",stories:"#ffaeae",community:"#98b0ff"};
const streamLine={culture:"#ffe5a8",careers:"#adf7de",stories:"#ffa0a0",community:"#6c8fff"};
svg.append("g").selectAll("path").data(layers).join("path").attr("d",area)
  .attr("fill",d=>streamFill[d.key]).attr("stroke",d=>streamLine[d.key]).attr("stroke-width",1);
const bandY=[999,1041,1066,1088];
streamBandNames.forEach((t,i)=>label(svg,t,791,bandY[i],{size:10.7,weight:500,color:INK}));
const qx=d3.scalePoint().domain(quarters).range([783,1169]);
quarters.forEach(q=>label(svg,q,qx(q),1161.5,{size:9.1,anchor:"middle",color:MUTED}));
shape(svg,"M1017.5 1027.5L1023 1034 1017.5 1040 1012 1034Z",{fill:"#fb8a8a"});
svg.append("rect").attr("x",977).attr("y",986.5).attr("width",83).attr("height",39).attr("rx",2).attr("fill","rgba(244,246,250,.93)").attr("stroke","#efc9cf").attr("stroke-width",1.4);
label(svg,"QA 2019",982,998.5,{size:11,weight:500,color:INK});
svg.append("circle").attr("cx",985).attr("cy",1013).attr("r",2.8).attr("fill","#ffb4b4");
label(svg,"Community 921",991,1013.5,{size:8.8,weight:500,color:SOFT});
const sLegX=[838,931,1000,1074],sLegC=[BLUE,"#fb6f6f",GREEN,AMBER];
streamLegend.forEach((t,i)=>{
  svg.append("circle").attr("cx",sLegX[i]).attr("cy",1190).attr("r",4).attr("fill",sLegC[i]);
  label(svg,t,sLegX[i]+7,1190.5,{size:10.5});
});
</script>
</body></html>
